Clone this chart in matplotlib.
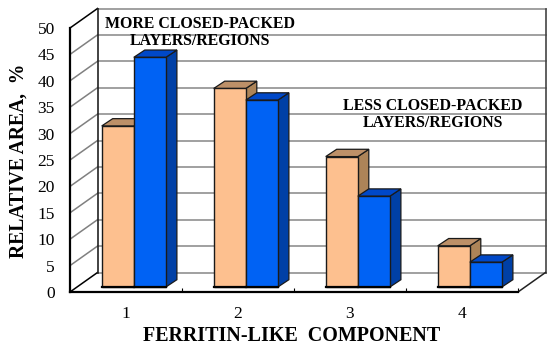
import matplotlib
matplotlib.use("Agg")
import matplotlib.pyplot as plt
from matplotlib.patches import Polygon

plt.rcParams['font.family'] = ['Liberation Serif', 'DejaVu Serif']

# values
categories = ['1', '2', '3', '4']
y_ticks = [0, 5, 10, 15, 20, 25, 30, 35, 40, 45, 50]
orange_vals = [30.5, 37.6, 24.7, 7.8]
blue_vals = [43.5, 35.4, 17.2, 4.7]

# 3d look, all in data units (1 category wide, 1 % high)
wall_dx, wall_dy = 27.5 / 112, 19.5 / 5.28
bar_dx, bar_dy = 11 / 112, 7.3 / 5.28
bar_w = 32.1 / 112
bar_base = 5 / 5.28
orange_off = 31.7 / 112
blue_off = 63.8 / 112

fig = plt.figure(figsize=(5.5, 3.48), dpi=100)
ax = fig.add_axes([0, 0, 1, 1])
ax.set_xlim(-70 / 112, 480 / 112)
ax.set_ylim(-56 / 5.28, 292 / 5.28)
ax.patch.set_visible(False)


def draw_bar(x, val, front, top, side):
    y0, y1 = bar_base, bar_base + val
    x1 = x + bar_w
    ax.add_patch(Polygon([(x1, y0), (x1 + bar_dx, y0 + bar_dy), (x1 + bar_dx, y1 + bar_dy), (x1, y1)],
                         fc=side, ec='#1a1a1a', lw=0.9, zorder=3))
    ax.add_patch(Polygon([(x, y1), (x + bar_dx, y1 + bar_dy), (x1 + bar_dx, y1 + bar_dy), (x1, y1)],
                         fc=top, ec='#1a1a1a', lw=0.9, zorder=3))
    ax.add_patch(Polygon([(x, y0), (x1, y0), (x1, y1), (x, y1)],
                         fc=front, ec='#1a1a1a', lw=1.0, zorder=3))
    ax.plot([x, x1], [y0, y0], color='black', lw=1.6, zorder=3)


# back wall grid + side wall diagonals
for v in y_ticks:
    ax.plot([wall_dx, 4 + wall_dx], [v + wall_dy, v + wall_dy], color='#999999', lw=1.3, zorder=1)
    c = 'black' if v in (0, 50) else '#808080'
    ax.plot([0, wall_dx], [v, v + wall_dy], color=c, lw=1.1, zorder=1)
ax.plot([wall_dx, wall_dx], [wall_dy, 50 + wall_dy], color='#222222', lw=1.2, zorder=2)
ax.plot([4 + wall_dx, 4 + wall_dx], [wall_dy, 50 + wall_dy], color='#444444', lw=1.2, zorder=2)
ax.plot([4, 4 + wall_dx], [0, wall_dy], color='#222222', lw=1.1, zorder=2)

for i in range(len(categories)):
    draw_bar(i + orange_off, orange_vals[i], '#fdc08f', '#bd9068', '#ad8458')
    draw_bar(i + blue_off, blue_vals[i], '#0062f4', '#0048c8', '#0040a6')

# axes lines and ticks
for s in ['top', 'right']:
    ax.spines[s].set_visible(False)
ax.spines['left'].set_position(('data', 0))
ax.spines['bottom'].set_position(('data', 0))
ax.spines['left'].set_bounds(0, 50)
ax.spines['bottom'].set_bounds(0, 4)
ax.spines['left'].set_linewidth(1.6)
ax.spines['bottom'].set_linewidth(1.6)
ax.set_yticks(y_ticks)
ax.set_xticks([0, 1, 2, 3, 4])
ax.set_xticklabels([])
ax.set_xticks([i + 0.5 for i in range(4)], minor=True)
ax.set_xticklabels(categories, minor=True, fontsize=12.5)
ax.tick_params(axis='y', length=0, labelsize=12.5, pad=11)
ax.tick_params(axis='x', which='major', direction='in', length=3, width=0.8)
ax.tick_params(axis='x', which='minor', length=0, pad=10)

# titles
ax.text(1.98, -8.3, 'FERRITIN-LIKE  COMPONENT', fontsize=14.4, fontweight='bold', ha='center', va='center')
ax.text(-0.455, 24.9, 'RELATIVE AREA,  %', fontsize=14.1, fontweight='bold', rotation=90, ha='center', va='center')

ax.text(1.16, 50.8, 'MORE CLOSED-PACKED', fontsize=11.4, fontweight='bold', ha='center', va='center', zorder=4)
ax.text(1.16, 47.5, 'LAYERS/REGIONS', fontsize=11.4, fontweight='bold', ha='center', va='center', zorder=4)
ax.text(3.24, 35.3, 'LESS CLOSED-PACKED', fontsize=11.4, fontweight='bold', ha='center', va='center', zorder=4)
ax.text(3.24, 32.0, 'LAYERS/REGIONS', fontsize=11.4, fontweight='bold', ha='center', va='center', zorder=4)

fig.savefig('out.png', dpi=100)
